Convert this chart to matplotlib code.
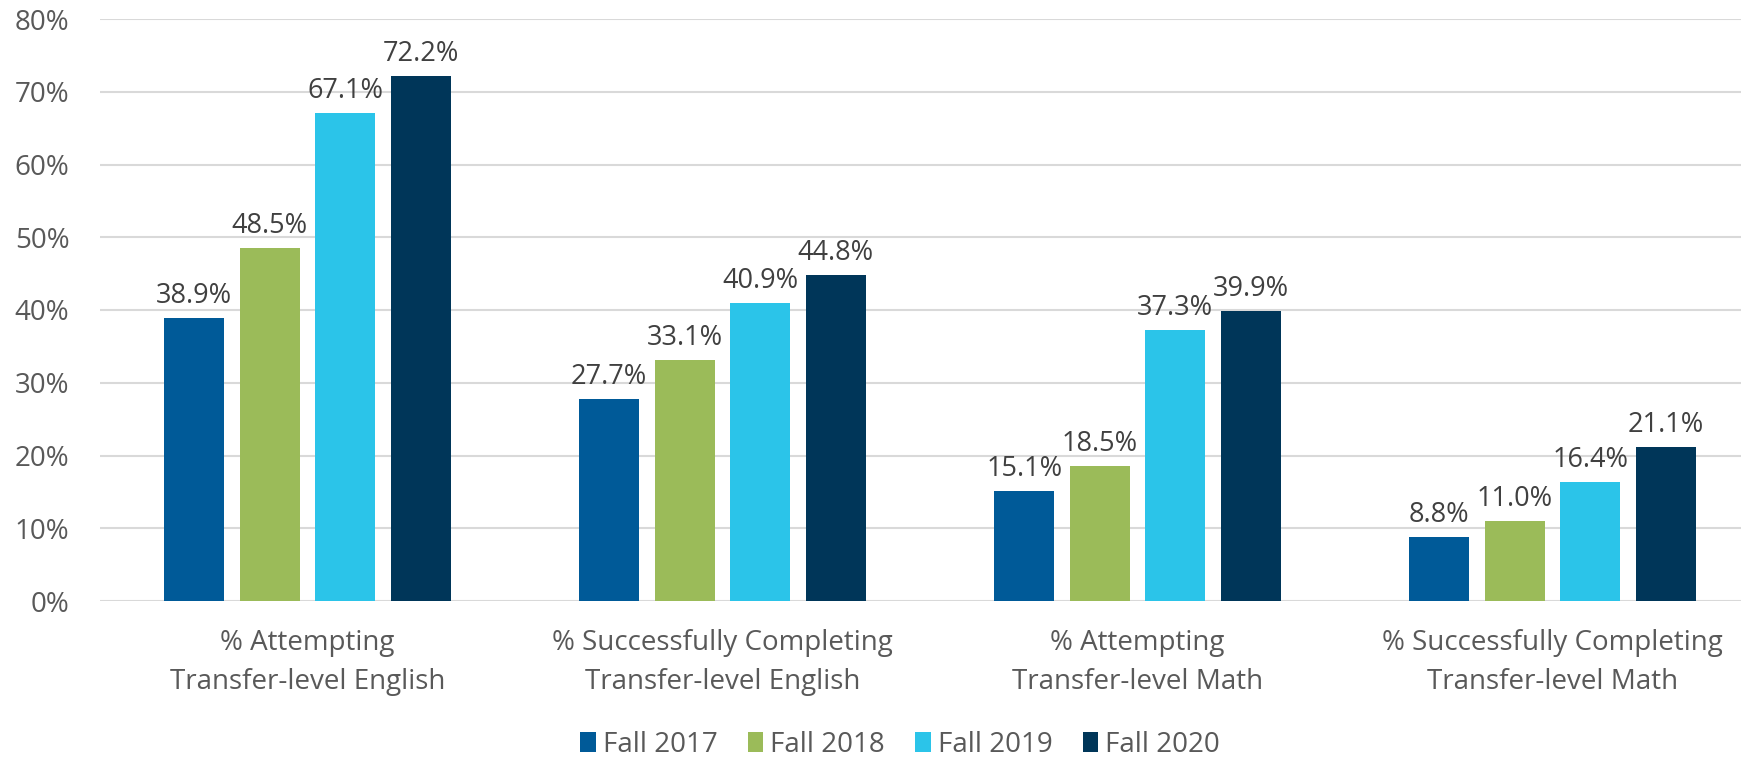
import matplotlib
matplotlib.use('Agg')
import matplotlib.pyplot as plt
import numpy as np

plt.rcParams['font.family'] = ['Open Sans', 'DejaVu Sans']

categories = ['% Attempting\nTransfer-level English',
              '% Successfully Completing\nTransfer-level English',
              '% Attempting\nTransfer-level Math',
              '% Successfully Completing\nTransfer-level Math']
series_names = ['Fall 2017', 'Fall 2018', 'Fall 2019', 'Fall 2020']
fall2017 = [38.9, 27.7, 15.1, 8.8]
fall2018 = [48.5, 33.1, 18.5, 11.0]
fall2019 = [67.1, 40.9, 37.3, 16.4]
fall2020 = [72.2, 44.8, 39.9, 21.1]
colors = ['#005A98', '#9BBB59', '#2BC4E9', '#003659']

fig = plt.figure(figsize=(17.41, 7.57), dpi=100)
ax = fig.add_axes([100/1741, 1 - 601/757, 1660/1741, 582/757])

x = np.arange(len(categories))
width = 0.145
step = 0.182
for i, (vals, name, c) in enumerate(zip([fall2017, fall2018, fall2019, fall2020], series_names, colors)):
    pos = x + (i - 1.5) * step
    ax.bar(pos, vals, width, color=c, label=name, zorder=3)
    for p, v in zip(pos, vals):
        ax.text(p, v + 1.1, f'{v:.1f}%', ha='center', va='bottom', fontsize=19.5, color='#404040')

ax.set_xlim(-0.5, 3.5)
ax.set_ylim(0, 80)
ax.set_yticks(range(0, 81, 10))
ax.set_yticklabels([f'{t}%' for t in range(0, 81, 10)])
ax.yaxis.grid(True, color='#D9D9D9', linewidth=1.5, zorder=0)
ax.set_xticks(x)
ax.set_xticklabels(categories, linespacing=1.55)
ax.tick_params(axis='y', length=0, labelsize=20, colors='#595959', pad=22)
ax.tick_params(axis='x', length=0, labelsize=20, colors='#595959', pad=20)
for s in ax.spines.values():
    s.set_visible(False)

leg = fig.legend(loc='center', bbox_to_anchor=(0.517, 1 - 745/757), ncol=4, frameon=False,
                 fontsize=20, handlelength=0.55, handleheight=0.75, handletextpad=0.25,
                 columnspacing=1.1)
for t in leg.get_texts():
    t.set_color('#595959')

fig.savefig('out.png', dpi=100)
